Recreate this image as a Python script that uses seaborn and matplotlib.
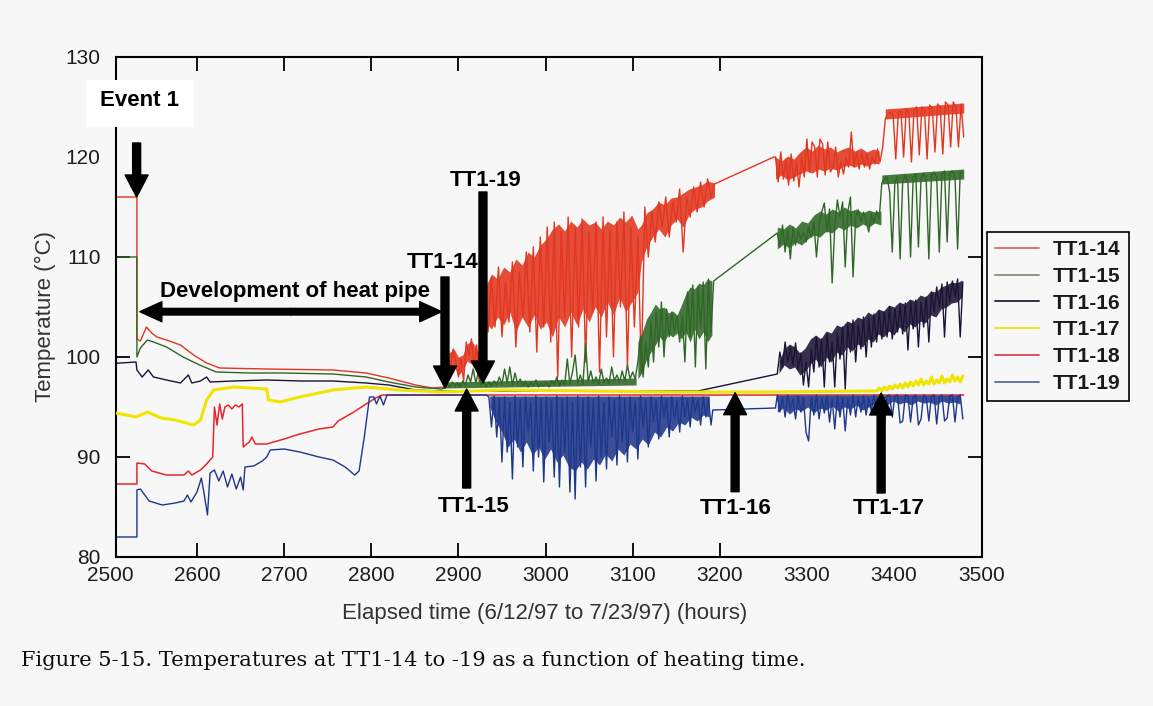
import numpy as np
import pandas as pd
import matplotlib
matplotlib.use("Agg")
import matplotlib.pyplot as plt
import matplotlib.transforms as mtransforms
from matplotlib.lines import Line2D
from matplotlib.patches import Rectangle
from matplotlib import font_manager as fm
import seaborn as sns

# ---------------------------------------------------------------- data
def hours_from(start, step, values):
    return [start + step * i for i in range(len(values))]

# TT1-14
tt14_early_h = [2500, 2531, 2531, 2535, 2542, 2548, 2554, 2565, 2581, 2596, 2611, 2626,
                2680, 2756, 2794, 2820, 2851, 2870, 2886]
tt14_early_t = [116.0, 116.0, 101.8, 101.6, 103.0, 102.4, 102.0, 101.7, 101.2, 100.2, 99.4, 98.9,
                98.8, 98.7, 98.4, 97.9, 97.2, 96.9, 97.0]
tt14_wiggle_t = [100.2, 99.0, 100.8, 99.5, 98.0, 99.8, 97.6, 101.5, 100.2, 101.8, 99.0, 101.2, 97.5, 98.8]
tt14_band1_t = [106, 102.5, 108, 103, 109, 102, 107.5, 103.5, 109.5, 101,
                108.5, 104, 110.5, 102.5, 111, 100.5, 112, 103, 113, 101.5,
                113.5, 98, 112.5, 104, 114, 100, 113, 103, 113.8, 99.5,
                112.5, 104.5, 113.5, 98.5, 114, 102, 112.8, 100, 113.5, 105,
                114.5, 99, 113, 103, 112, 98.5, 115, 110, 114.5, 111.5,
                115.5, 113, 116, 112, 115.5, 113.5, 116.8, 110.5, 116, 114,
                117, 114.5, 117.5, 115, 117.8, 116, 117.3]
tt14_mid_h = [3262]
tt14_mid_t = [120.0]
tt14_band2_t = [120.0, 117.5, 120.5, 117.8, 119.8, 117.2, 120.3, 117.6, 119.5, 117.0,
                120.0, 118.0, 121.8, 118.5, 121.5, 121.0, 118.0, 121.8, 121.3, 118.2,
                121.5, 118.5, 119.0, 121.0, 118.0, 119.5, 118.3, 120.0, 119.0, 122.5,
                119.0, 120.5, 118.8, 120.5, 119.0, 120.3, 118.8, 120.0, 119.3, 120.8,
                119.5, 121.0, 123.8, 124.3, 124.5, 124.2, 119.8, 124.5, 124.6, 120.0,
                124.8, 124.5, 119.5, 124.8, 125.0, 120.2, 125.0, 124.7, 119.8, 125.2,
                124.8, 120.5, 125.3, 125.0, 120.3, 125.5, 125.2, 121.0, 125.5, 125.0,
                121.0, 125.3, 122.0]
# dense cores of the noisy bands: lower / upper edges
tt14_core0_h = [2889, 2895, 2900, 2905, 2910, 2915, 2920, 2926]
tt14_core0_lo = [98.8, 99.2, 98.2, 98.6, 99.6, 99.3, 98.8, 98.2]
tt14_core0_hi = [100.4, 100.8, 100.0, 100.2, 101.3, 101.6, 101.0, 99.8]
tt14_core1_h = hours_from(2931, 7, [0] * 26) + [3110, 3116, 3123, 3130, 3137, 3144, 3151, 3158,
                                                3165, 3172, 3179, 3186, 3194]
tt14_core1_lo = [103.5, 102.8, 104.0, 103.2, 104.5, 102.5, 104.0, 103.0, 104.2, 102.8,
                 103.5, 102.0, 104.0, 103.0, 104.5, 103.2, 104.8, 103.5, 105.0, 104.0,
                 105.5, 104.2, 106.0, 104.5, 105.5, 106.5,
                 109.5, 111.0, 112.0, 112.8, 112.0, 113.2, 113.8, 113.0, 114.3, 114.8, 115.0, 115.6, 116.0]
tt14_core1_hi = [107.0, 108.3, 107.8, 109.0, 108.5, 109.8, 109.2, 110.5, 110.0, 111.2,
                 111.8, 112.8, 113.3, 112.6, 113.6, 113.0, 113.8, 113.2, 113.5, 112.8,
                 113.6, 113.2, 114.0, 113.5, 114.2, 112.8,
                 113.2, 114.4, 114.8, 115.5, 115.2, 115.9, 116.0, 116.4, 116.8, 117.0, 117.2, 117.6, 117.4]
tt14_core2_lo = [117.8, 118.2, 117.7, 118.0, 118.3, 118.6, 118.4, 118.8, 118.6, 118.9,
                 118.7, 119.0, 119.2, 119.0, 119.3, 119.1, 119.4, 119.3]
tt14_core2_hi = [120.0, 119.6, 120.1, 119.8, 120.5, 121.0, 120.6, 121.2, 120.8, 121.0,
                 120.5, 120.8, 121.0, 120.6, 120.9, 120.5, 120.8, 120.6]
tt14_core2_h = hours_from(3264, 7, tt14_core2_lo)
tt14_core3_h = [3390, 3480]
tt14_core3_lo = [123.8, 124.4]
tt14_core3_hi = [124.8, 125.4]

# TT1-15
tt15_early_h = [2500, 2531, 2531, 2535, 2543, 2550, 2565, 2584, 2603, 2622, 2660, 2700, 2756,
                2794, 2820, 2851, 2881]
tt15_early_t = [110.0, 110.0, 100.0, 100.9, 101.7, 101.5, 101.0, 100.0, 99.2, 98.5, 98.4, 98.4, 98.3,
                98.0, 97.5, 97.0, 96.8]
tt15_flat_t = [96.9, 97.3, 97.0, 97.5, 97.1, 97.4, 97.0, 97.6, 97.2, 98.2,
               97.5, 98.8, 97.4, 98.5, 97.2, 97.6, 97.0, 97.5, 97.1, 97.6,
               97.2, 98.0, 97.3, 98.8, 97.4, 99.0, 97.2, 98.4, 97.3, 97.8,
               97.1, 97.6, 97.0, 97.5, 97.1, 97.7, 97.0, 97.4, 97.1, 97.5,
               97.0, 97.6, 97.2, 98.0, 97.1, 97.7, 97.2, 99.8, 97.3, 98.5,
               100.2, 97.4, 98.2, 97.3, 101.4, 97.5, 98.6, 97.4, 98.0, 97.3,
               98.8, 97.5, 97.9, 97.4, 99.0, 97.6, 98.2, 97.5, 98.6, 97.6,
               99.2, 97.8, 98.5, 97.8]
tt15_rise_t = [99.5, 102.0, 98.0, 101.5, 99.0, 103.5, 99.5, 104.5, 101.0, 105.5,
               100.0, 104.8, 102.0, 104.5, 102.5, 104.0, 101.5, 104.2, 99.5, 106.5,
               102.0, 107.2, 99.0, 107.0, 103.0, 107.5, 98.8, 107.8, 102.5, 107.6]
tt15_late_t = [112.4, 111.0, 113.2, 110.5, 112.8, 109.8, 113.0, 111.2, 112.6, 111.8,
               112.5, 111.5, 113.0, 112.0, 113.5, 110.0, 113.2, 114.5, 115.4, 112.5,
               114.8, 107.4, 113.0, 115.7, 114.0, 115.5, 109.0, 114.5, 116.0, 108.0,
               114.0, 114.7, 113.5, 114.5, 113.6, 112.5, 114.3, 113.4, 114.6, 113.8,
               117.4, 117.8, 118.0, 116.5, 110.5, 117.5, 118.0, 109.8, 117.6, 118.2,
               117.5, 110.0, 118.0, 118.3, 111.0, 117.8, 118.4, 117.6, 109.8, 118.2,
               118.5, 118.0, 110.5, 118.3, 118.6, 111.5, 118.4, 118.6, 118.0, 110.8,
               118.5, 118.4]
tt15_core1_h = [2884, 3104]
tt15_core1_lo = [96.9, 97.2]
tt15_core1_hi = [97.5, 97.9]
tt15_core2_lo = [97.8, 98.5, 99.8, 100.5, 101.2, 102.0, 101.5, 102.3, 102.0, 102.4,
                 101.8, 102.5, 101.5, 102.8, 101.8, 102.5, 101.5, 102.2]
tt15_core2_hi = [101.5, 102.5, 103.8, 104.5, 105.3, 104.8, 105.0, 104.4, 104.6, 104.2,
                 105.2, 106.3, 107.0, 106.8, 107.4, 107.2, 107.8, 107.6]
tt15_core2_h = hours_from(3106, 5, tt15_core2_lo)
tt15_core3_lo = [110.8, 111.3, 110.9, 111.5, 111.2, 111.8, 112.2, 112.0, 112.6, 112.4,
                 113.0, 112.7, 113.2, 112.9, 113.3, 113.0, 113.4, 113.2]
tt15_core3_hi = [113.0, 112.8, 113.3, 112.9, 113.6, 113.4, 114.2, 114.6, 114.3, 114.8,
                 114.5, 115.0, 114.6, 114.8, 114.4, 114.7, 114.5, 114.6]
tt15_core3_h = hours_from(3266, 7, tt15_core3_lo)
tt15_core4_h = [3386, 3480]
tt15_core4_lo = [117.3, 117.8]
tt15_core4_hi = [118.2, 118.8]

# TT1-16
tt16_early_h = [2500, 2512, 2530, 2531, 2537, 2544, 2550, 2565, 2581, 2590, 2594, 2604, 2611,
                2615, 2642, 2680, 2720, 2756, 2794, 2820, 2851, 2881, 3175]
tt16_early_t = [99.3, 99.4, 99.5, 98.7, 98.0, 98.7, 98.0, 97.7, 97.4, 98.2, 97.4, 97.6, 98.0,
                97.5, 97.6, 97.7, 97.6, 97.6, 97.4, 97.2, 96.7, 96.6, 96.6]
tt16_late_t = [98.3, 100.5, 99.0, 101.5, 99.5, 101.0, 99.2, 101.4, 98.8, 100.4,
               97.2, 99.5, 97.0, 100.8, 98.5, 102.0, 99.0, 101.8, 97.0, 102.3,
               99.5, 101.5, 97.0, 102.4, 99.8, 103.0, 96.8, 103.3, 100.5, 103.7,
               99.5, 103.2, 100.8, 104.0, 100.0, 103.8, 101.0, 104.3, 101.5, 104.6,
               101.8, 104.5, 102.0, 105.0, 101.8, 104.8, 102.5, 105.2, 102.3, 105.4,
               100.7, 105.5, 102.8, 105.7, 101.0, 105.5, 103.0, 106.0, 101.5, 106.5,
               104.5, 107.0, 105.0, 107.3, 102.0, 107.5, 105.5, 107.6, 106.0, 107.8,
               102.0, 107.5]
tt16_core_lo = [98.4, 99.2, 98.8, 99.0, 98.2, 98.6, 99.3, 99.8, 99.0, 100.0,
                99.5, 100.5, 100.2, 101.0, 100.6, 101.3, 101.0, 101.8, 101.5, 102.3,
                102.0, 102.6, 102.2, 103.0, 102.5, 103.3, 103.0, 103.6, 103.4, 104.2,
                104.0, 104.8, 105.0, 105.4, 105.5, 106.0]
tt16_core_hi = [99.6, 100.8, 101.3, 101.0, 100.4, 100.9, 101.8, 102.2, 101.8, 102.6,
                102.4, 103.2, 103.0, 103.6, 103.4, 104.0, 103.8, 104.5, 104.2, 104.8,
                104.6, 105.2, 105.0, 105.5, 105.3, 105.8, 105.6, 106.2, 106.0, 106.6,
                106.5, 107.0, 107.2, 107.5, 107.4, 107.7]
tt16_core_h = hours_from(3268, 6, tt16_core_lo)

# TT1-17
tt17_early_h = [2500, 2507, 2530, 2543, 2559, 2575, 2596, 2604, 2611, 2619, 2642, 2680, 2682,
                2695, 2718, 2756, 2794, 2832, 2881, 2950, 3050, 3150, 3250, 3380]
tt17_early_t = [94.4, 94.4, 94.0, 94.5, 93.9, 93.7, 93.2, 93.7, 95.7, 96.7, 97.0, 96.8, 95.7,
                95.5, 96.0, 96.7, 97.0, 96.7, 96.5, 96.7, 96.6, 96.5, 96.5, 96.6]
tt17_late_t = [96.9, 96.6, 97.0, 96.7, 97.1, 96.8, 97.2, 96.9, 97.3, 96.9,
               97.4, 97.0, 97.5, 97.1, 97.6, 97.2, 97.8, 97.2, 97.6, 97.3,
               98.0, 97.3, 97.7, 97.4, 98.1, 97.4, 97.8, 97.5, 98.2, 97.6,
               98.0, 97.5, 98.1]

# TT1-18
tt18_h = [2500, 2531, 2531, 2540, 2548, 2565, 2585, 2590, 2594, 2604,
          2611, 2618, 2620, 2623, 2626, 2629, 2632, 2636, 2640, 2644,
          2648, 2652, 2653, 2660, 2663, 2667, 2680, 2700, 2718, 2740,
          2756, 2762, 2770, 2780, 2794, 2805, 2813, 2850, 3480]
tt18_t = [87.3, 87.3, 89.4, 89.3, 88.6, 88.2, 88.2, 88.6, 88.2, 88.7,
          89.3, 90.0, 95.0, 93.2, 95.3, 93.8, 95.0, 95.2, 94.8, 95.2,
          95.0, 95.3, 91.0, 91.5, 92.0, 91.3, 91.3, 91.8, 92.3, 92.8,
          93.0, 93.6, 94.0, 94.5, 95.3, 95.9, 96.2, 96.2, 96.2]

# TT1-19
tt19_early_h = [2500, 2531, 2531, 2535, 2545, 2560, 2575, 2585, 2589, 2593,
                2600, 2605, 2608, 2612, 2615, 2620, 2625, 2630, 2635, 2640,
                2645, 2650, 2653, 2655, 2665, 2675, 2680, 2684, 2700, 2718,
                2740, 2756, 2770, 2781, 2786, 2792, 2798, 2803, 2806, 2810,
                2814, 2818, 2932]
tt19_early_t = [82.0, 82.0, 86.7, 86.8, 85.6, 85.2, 85.4, 85.6, 86.2, 85.5,
                86.5, 87.9, 86.4, 84.2, 88.4, 88.7, 87.6, 88.6, 87.0, 88.3,
                86.8, 88.0, 86.7, 89.0, 89.1, 89.6, 90.0, 90.7, 90.8, 90.5,
                90.0, 89.7, 89.0, 88.2, 88.6, 92.0, 96.0, 96.0, 95.3, 96.1,
                95.2, 96.2, 96.2]
tt19_band1_t = [96.0, 93.0, 96.1, 92.0, 95.8, 89.5, 96.0, 90.5, 95.5, 87.8,
                96.1, 91.0, 95.7, 89.0, 96.0, 92.5, 95.5, 88.6, 96.1, 90.0,
                95.8, 87.5, 96.0, 91.5, 95.6, 88.0, 96.1, 87.0, 95.8, 90.5,
                96.0, 86.5, 95.5, 85.8, 96.1, 89.0, 95.7, 87.0, 96.0, 91.0,
                95.8, 87.6, 96.1, 90.0, 95.5, 88.8, 96.0, 92.0, 95.7, 89.2,
                96.1, 91.5, 95.8, 89.5, 96.0, 92.5, 95.6, 89.8, 96.1, 93.0,
                95.8, 91.0, 96.0, 93.5, 95.7, 91.8, 96.1, 94.0, 95.8, 92.0,
                96.0, 93.8, 95.6, 92.5, 96.1, 94.0, 95.8, 93.0, 96.0, 94.5,
                95.7, 93.2, 96.0, 94.0, 95.8, 93.2]
tt19_mid_h = [3192, 3264]
tt19_mid_t = [94.7, 94.9]
tt19_band2_t = [96.2, 94.5, 96.0, 94.0, 96.2, 94.8, 95.8, 93.8, 96.1, 94.5,
                95.9, 92.5, 91.6, 96.0, 94.2, 96.2, 93.8, 95.9, 94.4, 96.1,
                93.5, 95.8, 92.8, 96.1, 94.0, 96.0, 92.6, 95.9, 94.2, 96.2,
                94.0, 96.0, 94.5, 96.1, 94.2, 95.9, 94.6, 96.2, 94.3, 96.0,
                93.5, 93.2, 96.1, 96.2, 94.0, 96.1, 96.2, 93.4, 93.6, 96.2,
                96.1, 93.5, 96.0, 96.2, 93.2, 93.8, 96.2, 96.0, 93.6, 96.1,
                96.2, 93.3, 96.0, 96.2, 93.6, 93.9, 96.1, 96.2, 93.5, 96.0,
                96.2, 93.8]
tt19_core1_lo = [95.0, 93.5, 92.5, 91.0, 91.8, 90.5, 91.5, 90.2, 91.0, 89.8,
                 90.8, 89.5, 90.2, 89.0, 88.6, 89.5, 88.8, 89.8, 89.2, 90.3,
                 89.6, 90.8, 90.2, 91.3, 90.8, 91.8, 91.2, 92.5, 92.0, 93.0,
                 92.6, 93.5, 93.2, 94.0, 93.6, 94.2, 94.0]
tt19_core1_h = hours_from(2936, 7, tt19_core1_lo)
tt19_core1_hi = [96.1] * len(tt19_core1_lo)
tt19_core2_lo = [94.5, 94.9, 94.3, 94.8, 94.6, 95.0, 94.4, 94.9, 94.7, 95.1,
                 94.6, 95.0, 94.8, 95.2, 94.7, 95.0, 95.3, 95.5, 95.2, 95.6,
                 95.3, 95.5, 95.2, 95.6, 95.4, 95.5, 95.2, 95.6, 95.4, 95.5, 95.3]
tt19_core2_h = hours_from(3266, 7, tt19_core2_lo)
tt19_core2_hi = [96.2] * len(tt19_core2_lo)

series_names = ["TT1-14", "TT1-15", "TT1-16", "TT1-17", "TT1-18", "TT1-19"]
x_tick_values = [2600, 2700, 2800, 2900, 3000, 3100, 3200, 3300, 3400, 3500]
y_tick_values = [80, 90, 100, 110, 120, 130]

# ------------------------------------------------- assemble the series
series = {
    "TT1-14": (tt14_early_h + hours_from(2888, 3, tt14_wiggle_t) + hours_from(2930, 4, tt14_band1_t)
               + tt14_mid_h + hours_from(3264, 3, tt14_band2_t),
               tt14_early_t + tt14_wiggle_t + tt14_band1_t + tt14_mid_t + tt14_band2_t),
    "TT1-15": (tt15_early_h + hours_from(2884, 3, tt15_flat_t) + hours_from(3106, 3, tt15_rise_t)
               + hours_from(3266, 3, tt15_late_t),
               tt15_early_t + tt15_flat_t + tt15_rise_t + tt15_late_t),
    "TT1-16": (tt16_early_h + hours_from(3266, 3, tt16_late_t), tt16_early_t + tt16_late_t),
    "TT1-17": (tt17_early_h + hours_from(3383, 3, tt17_late_t), tt17_early_t + tt17_late_t),
    "TT1-18": (tt18_h, tt18_t),
    "TT1-19": (tt19_early_h + hours_from(2935, 3, tt19_band1_t) + tt19_mid_h
               + hours_from(3266, 3, tt19_band2_t),
               tt19_early_t + tt19_band1_t + tt19_mid_t + tt19_band2_t),
}
cores = {
    "TT1-14": [(tt14_core0_h, tt14_core0_lo, tt14_core0_hi),
               (tt14_core1_h, tt14_core1_lo, tt14_core1_hi), (tt14_core2_h, tt14_core2_lo, tt14_core2_hi),
               (tt14_core3_h, tt14_core3_lo, tt14_core3_hi)],
    "TT1-15": [(tt15_core1_h, tt15_core1_lo, tt15_core1_hi), (tt15_core2_h, tt15_core2_lo, tt15_core2_hi),
               (tt15_core3_h, tt15_core3_lo, tt15_core3_hi), (tt15_core4_h, tt15_core4_lo, tt15_core4_hi)],
    "TT1-16": [(tt16_core_h, tt16_core_lo, tt16_core_hi)],
    "TT1-17": [],
    "TT1-18": [],
    "TT1-19": [(tt19_core1_h, tt19_core1_lo, tt19_core1_hi), (tt19_core2_h, tt19_core2_lo, tt19_core2_hi)],
}

colors = {"TT1-14": "#e2361f", "TT1-15": "#2f6726", "TT1-16": "#1b1434",
          "TT1-17": "#f1e400", "TT1-18": "#e5262c", "TT1-19": "#1e378a"}
legend_colors = {"TT1-14": "#d9736f", "TT1-15": "#8b9a7e", "TT1-16": "#33333f",
                 "TT1-17": "#e9e325", "TT1-18": "#e14f5a", "TT1-19": "#6775a6"}
widths = {"TT1-14": 1.0, "TT1-15": 1.0, "TT1-16": 1.0, "TT1-17": 2.2, "TT1-18": 1.1, "TT1-19": 1.0}
zorders = {"TT1-14": 2.1, "TT1-15": 2.2, "TT1-16": 2.3, "TT1-17": 2.6, "TT1-18": 2.4, "TT1-19": 2.5}

# ------------------------------------------------------------- styling
sns.set_style("ticks")
names = {f.name for f in fm.fontManager.ttflist}
SANS = "Liberation Sans" if "Liberation Sans" in names else "DejaVu Sans"
NARROW = "Liberation Sans Narrow" if "Liberation Sans Narrow" in names else SANS
NARROW_SIZE = 18 if NARROW == "Liberation Sans Narrow" else 15
SERIF = "DejaVu Serif"
plt.rcParams["font.family"] = [SANS, "DejaVu Sans"]

BG = "#f7f7f7"
fig = plt.figure(figsize=(11.53, 7.06), dpi=100, facecolor=BG)
ax = fig.add_axes([116 / 1153, 1 - 557 / 706, 866 / 1153, 500 / 706])
ax.set_facecolor(BG)

for name in series_names:
    for ch, lo, hi in cores[name]:
        n = min(len(ch), len(lo), len(hi))
        ax.fill_between(ch[:n], lo[:n], hi[:n], color=colors[name], alpha=0.88, linewidth=0,
                        zorder=zorders[name] - 0.01)
    h, t = series[name]
    sns.lineplot(x=h, y=t, ax=ax, color=colors[name], linewidth=widths[name],
                 estimator=None, sort=False, zorder=zorders[name], legend=False)

ax.set_xlim(2507, 3501)
ax.set_ylim(80, 130)
ax.set_xlabel("")
ax.set_ylabel("")

for s in ax.spines.values():
    s.set_visible(True)
    s.set_color("black")
    s.set_linewidth(1.5)

ax.set_xticks(x_tick_values)
ax.set_xticklabels([str(v) for v in x_tick_values])
ax.set_yticks(y_tick_values)
ax.set_yticklabels([str(v) for v in y_tick_values])
ax.tick_params(axis="both", which="major", direction="in", length=10, width=1.3,
               colors="black", labelcolor="#1c1c1c", labelsize=NARROW_SIZE,
               top=True, right=True)
ax.tick_params(axis="x", pad=6.5)
ax.tick_params(axis="y", pad=11)
for lab in ax.get_xticklabels() + ax.get_yticklabels():
    lab.set_fontfamily(NARROW)

marked_x = {2600, 2700, 2800, 2900, 3000, 3100, 3200}
marked_y = {90, 100, 110}
for tk, v in zip(ax.xaxis.get_major_ticks(), x_tick_values):
    if v not in marked_x:
        tk.tick1line.set_visible(False)
        tk.tick2line.set_visible(False)
for tk, v in zip(ax.yaxis.get_major_ticks(), y_tick_values):
    if v not in marked_y:
        tk.tick1line.set_visible(False)
        tk.tick2line.set_visible(False)

off = mtransforms.offset_copy(ax.get_xaxis_transform(), fig=fig, y=-6.5, units="points")
ax.text(2500, 0, "2500", transform=off, ha="center", va="top", fontsize=NARROW_SIZE,
        family=NARROW, color="#1c1c1c", clip_on=False)

fig.text(45 / 1153, 1 - 316 / 706, "Temperature (°C)", rotation=90, ha="center", va="center",
         fontsize=16, color="#333333", family=SANS)
fig.text(545 / 1153, 1 - 614 / 706, "Elapsed time (6/12/97 to 7/23/97) (hours)", ha="center",
         va="center", fontsize=16, color="#333333", family=SANS)
fig.text(21 / 1153, 1 - 660 / 706,
         "Figure 5-15. Temperatures at TT1-14 to -19 as a function of heating time.",
         ha="left", va="center", fontsize=15.1, color="#0d0d0d", family=SERIF)

# ---------------------------------------------------------- annotations
def arrow(tail, tip, hw=1.18, hl=1.13, tw=0.41):
    ax.annotate("", xy=tip, xytext=tail, xycoords="data", textcoords="data",
                arrowprops=dict(arrowstyle=f"simple,head_length={hl},head_width={hw},tail_width={tw}",
                                color="black", shrinkA=0, shrinkB=0, mutation_scale=14),
                annotation_clip=False, zorder=7)

def label(x, y, s):
    ax.text(x, y, s, ha="center", va="center", fontsize=16, fontweight="bold",
            family=SANS, color="black", zorder=8, clip_on=False)

ax.add_patch(Rectangle((2472.4, 122.97), 124.0, 4.73, facecolor="white", edgecolor="none",
                       clip_on=False, zorder=6))
label(2533.9, 125.7, "Event 1")
arrow((2530.7, 121.4), (2530.7, 116.0))

label(2712.4, 106.55, "Development of heat pipe")
arrow((2707.6, 104.53), (2534.4, 104.53), hw=1.03, hl=1.13, tw=0.34)
arrow((2707.6, 104.53), (2880.8, 104.53), hw=1.03, hl=1.13, tw=0.34)

label(2881.7, 109.45, "TT1-14")
arrow((2884.6, 108.0), (2884.6, 96.9))
label(2931.5, 117.7, "TT1-19")
arrow((2928.2, 116.5), (2928.2, 97.4))
label(2917.3, 85.03, "TT1-15")
arrow((2909.5, 86.9), (2909.5, 96.8))
label(3218.7, 84.9, "TT1-16")
arrow((3217.6, 86.53), (3217.6, 96.43))
label(3393.6, 84.8, "TT1-17")
arrow((3385.2, 86.4), (3385.2, 96.4))

# --------------------------------------------------------------- legend
handles = [Line2D([0], [0], color=legend_colors[n], lw=1.4) for n in series_names]
leg = ax.legend(handles, series_names, loc="upper left", bbox_to_anchor=(987 / 1153, 1 - 232 / 706),
                bbox_transform=fig.transFigure, borderaxespad=0, frameon=True, fancybox=False,
                shadow=False, prop=dict(family=SANS, weight="bold", size=15),
                handlelength=2.1, handletextpad=0.65, labelspacing=0.37, borderpad=0.4)
leg.get_frame().set_edgecolor("black")
leg.get_frame().set_linewidth(1.2)
leg.get_frame().set_facecolor(BG)
leg.get_frame().set_alpha(1)
for txt in leg.get_texts():
    txt.set_color("#1a1a1a")

fig.savefig("out.png", dpi=100, facecolor=BG)
